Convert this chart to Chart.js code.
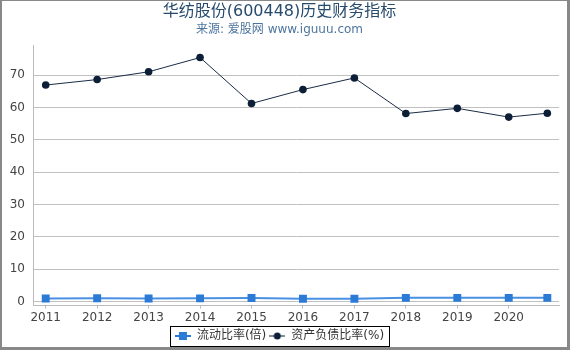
<!DOCTYPE html>
<html>
<head>
<meta charset="utf-8">
<script src="https://cdn.jsdelivr.net/npm/chart.js@4"></script>
<style>
  body { margin: 0; background: #fff; }
  #wrap { width: 570px; height: 350px; position: relative; }
</style>
</head>
<body>
<div id="wrap"><canvas id="ratios"></canvas></div>
<script>
// report periods (last point is 2021 Q3, sits 3/4 of a year after 2020)
const periods = [2011, 2012, 2013, 2014, 2015, 2016, 2017, 2018, 2019, 2020, 2020.75]
const yearTicks = [2011, 2012, 2013, 2014, 2015, 2016, 2017, 2018, 2019, 2020]
const valueTicks = [0, 10, 20, 30, 40, 50, 60, 70]

const currentRatio = [0.97, 1.05, 0.95, 1.0, 1.1, 0.9, 0.9, 1.15, 1.15, 1.15, 1.15]
const debtRatio = [66.9, 68.6, 71.0, 75.4, 61.2, 65.5, 69.1, 58.1, 59.7, 57.0, 58.2]

const labelCurrent = '流动比率(倍)'
const labelDebt = '资产负债比率(%)'

const fontFamily = '"DejaVu Sans", "Noto Sans CJK SC", sans-serif'

const toPoints = (values) => values.map((v, i) => ({ x: periods[i], y: v }))

// small legend symbol: line with marker on it
const legendSymbol = (color, shape) => {
    const c = document.createElement('canvas')
    c.width = 16
    c.height = 10
    const ctx = c.getContext('2d')
    ctx.strokeStyle = color
    ctx.lineWidth = shape === 'rect' ? 2 : 1
    ctx.beginPath()
    ctx.moveTo(0, 5)
    ctx.lineTo(16, 5)
    ctx.stroke()
    ctx.fillStyle = color
    if (shape === 'rect') {
        ctx.fillRect(4, 1, 8, 8)
    } else {
        ctx.beginPath()
        ctx.arc(8, 5, 3.5, 0, Math.PI * 2)
        ctx.fill()
    }
    return c
}

const framePlugin = {
    id: 'frame',
    afterDraw(chart) {
        const ctx = chart.ctx
        const w = chart.width
        const h = chart.height
        ctx.save()
        // legend border
        const boxes = chart.legend.legendHitBoxes
        if (boxes && boxes.length) {
            const left = Math.min(...boxes.map(b => b.left)) - 5
            const right = Math.max(...boxes.map(b => b.left + b.width)) + 5
            const top = Math.min(...boxes.map(b => b.top)) - 4
            const bottom = Math.max(...boxes.map(b => b.top + b.height)) + 4
            ctx.strokeStyle = '#000'
            ctx.lineWidth = 1
            ctx.strokeRect(Math.round(left) + 0.5, Math.round(top) + 0.5, Math.round(right - left), Math.round(bottom - top))
        }
        // outer frame
        ctx.fillStyle = '#888'
        ctx.fillRect(0, 0, w, 1)
        ctx.fillRect(0, 0, 2, h)
        ctx.fillRect(w - 3, 0, 3, h)
        ctx.fillRect(0, h - 3, w, 3)
        ctx.restore()
    }
}

new Chart(
    document.getElementById('ratios'),
    {
        type: 'line',
        data: {
            datasets: [
                {
                    label: labelCurrent,
                    data: toPoints(currentRatio),
                    borderColor: '#4a90e2',
                    backgroundColor: '#2b7bd6',
                    borderWidth: 2,
                    pointStyle: 'rect',
                    pointRadius: 5.6,
                    pointBorderWidth: 0,
                    tension: 0
                },
                {
                    label: labelDebt,
                    data: toPoints(debtRatio),
                    borderColor: '#1a2b45',
                    backgroundColor: '#0d1f36',
                    borderWidth: 1,
                    pointStyle: 'circle',
                    pointRadius: 3.8,
                    pointBorderWidth: 0,
                    tension: 0
                }
            ]
        },
        options: {
            responsive: true,
            maintainAspectRatio: false,
            animation: false,
            layout: {
                padding: { left: 0, right: 11, top: 0, bottom: -2 }
            },
            scales: {
                x: {
                    type: 'linear',
                    min: 2010.753,
                    max: 2020.977,
                    afterBuildTicks: (scale) => {
                        scale.ticks = yearTicks.map(v => ({ value: v }))
                    },
                    ticks: {
                        color: '#444',
                        font: { family: fontFamily, size: 12 },
                        padding: 2,
                        maxRotation: 0,
                        callback: (v) => String(v)
                    },
                    grid: {
                        display: true,
                        drawOnChartArea: false,
                        drawTicks: true,
                        tickLength: 3,
                        color: '#bbb'
                    },
                    border: { display: true, color: '#bbb', width: 1 }
                },
                y: {
                    type: 'linear',
                    min: -1.24,
                    max: 79.09,
                    afterBuildTicks: (scale) => {
                        scale.ticks = valueTicks.map(v => ({ value: v }))
                    },
                    afterFit: (scale) => {
                        scale.width = 33
                    },
                    ticks: {
                        color: '#444',
                        font: { family: fontFamily, size: 12 },
                        padding: 8
                    },
                    grid: {
                        color: '#c0c0c0',
                        drawTicks: false
                    },
                    border: { display: true, color: '#bbb', width: 1 }
                }
            },
            plugins: {
                title: {
                    display: true,
                    text: '华纺股份(600448)历史财务指标',
                    color: '#274b6d',
                    font: { family: fontFamily, size: 16, weight: 'normal' },
                    padding: { top: 2, bottom: 1 }
                },
                subtitle: {
                    display: true,
                    text: '来源: 爱股网 www.iguuu.com',
                    color: '#4d759e',
                    font: { family: fontFamily, size: 12, weight: 'normal' },
                    padding: { top: 0, bottom: 9 }
                },
                legend: {
                    position: 'bottom',
                    labels: {
                        color: '#333',
                        font: { family: fontFamily, size: 12 },
                        usePointStyle: true,
                        pointStyleWidth: 16,
                        padding: 3,
                        generateLabels: (chart) => [
                            { text: labelCurrent, pointStyle: legendSymbol('#2b7bd6', 'rect'), datasetIndex: 0, fontColor: '#333', lineWidth: 0, strokeStyle: 'transparent', fillStyle: 'transparent' },
                            { text: labelDebt, pointStyle: legendSymbol('#0d1f36', 'circle'), datasetIndex: 1, fontColor: '#333', lineWidth: 0, strokeStyle: 'transparent', fillStyle: 'transparent' }
                        ]
                    }
                },
                tooltip: { enabled: false }
            }
        },
        plugins: [framePlugin]
    }
)
</script>
</body>
</html>
